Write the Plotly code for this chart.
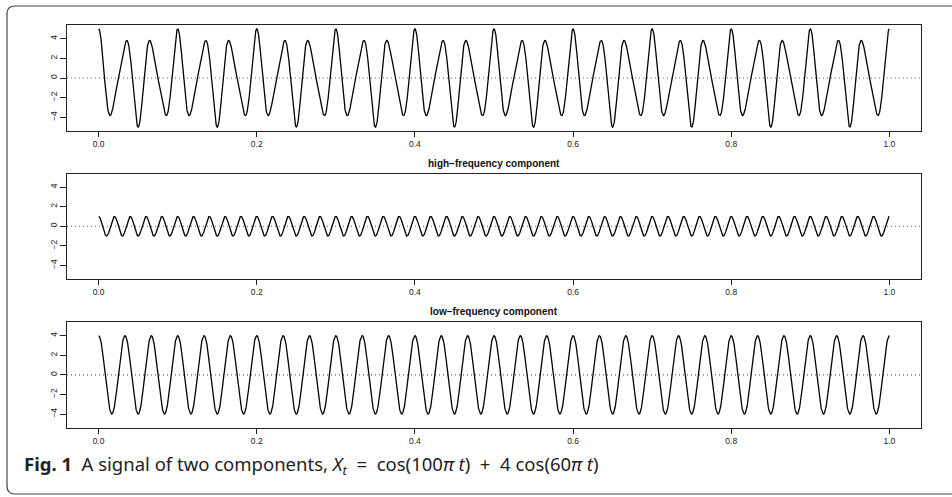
import numpy as np
import plotly.graph_objects as go

panel_titles = ["", "high−frequency component", "low−frequency component"]
component_amplitudes = [1.0, 4.0]      # cos(100πt), 4cos(60πt)
component_frequencies = [50.0, 30.0]   # cycles per unit time
t_start, t_end, n_samples = 0.0, 1.0, 3001
x_ticks = [0.0, 0.2, 0.4, 0.6, 0.8, 1.0]
y_ticks = [-4, -2, 0, 2, 4]
y_limits = [-5.4, 5.4]
x_limits = [-0.04, 1.04]
caption = ("<b>Fig. 1</b>  A signal of two components, <i>X<sub>t</sub></i>&nbsp;&nbsp;=&nbsp;&nbsp;"
           "cos(100<i>π t</i>)&nbsp;&nbsp;+&nbsp;&nbsp;4 cos(60<i>π t</i>)")

t = np.linspace(t_start, t_end, n_samples)
high = component_amplitudes[0] * np.cos(2 * np.pi * component_frequencies[0] * t)
low = component_amplitudes[1] * np.cos(2 * np.pi * component_frequencies[1] * t)
series = [high + low, high, low]

W, H = 952, 497


def px_x(p):
    return p / W


def px_y(p):
    return 1 - p / H


# panel pixel boxes (top, bottom)
panels = [(25, 131), (173.5, 279), (322, 427.7)]
xl, xr = 67, 921

fig = go.Figure()
shapes = []
annotations = []
for i, (top, bot) in enumerate(panels):
    ax = "" if i == 0 else str(i + 1)
    fig.add_trace(go.Scatter(x=t, y=series[i], mode="lines",
                             line=dict(color="black", width=1.3),
                             xaxis="x" + ax, yaxis="y" + ax,
                             showlegend=False, hoverinfo="skip"))
    common = dict(showline=True, mirror=True, linecolor="#222", linewidth=1,
                  showgrid=False, zeroline=False, ticks="outside",
                  tickcolor="#222", tickwidth=1,
                  tickfont=dict(family="Liberation Sans, Arial", size=8.5, color="#222"))
    fig.update_layout(**{
        "xaxis" + ax: dict(domain=[px_x(xl), px_x(xr)], range=x_limits,
                           tickvals=x_ticks, tickformat=".1f", ticklen=5,
                           anchor="y" + ax, **common),
        "yaxis" + ax: dict(domain=[px_y(bot), px_y(top)], range=y_limits,
                           tickvals=y_ticks, tickangle=-90, ticklen=6,
                           anchor="x" + ax, **common),
    })
    shapes.append(dict(type="line", xref="x" + ax + " domain", yref="y" + ax,
                       x0=0, x1=1, y0=0, y1=0,
                       line=dict(color="#666", width=1.2, dash="1px,3px"), layer="below"))
    if panel_titles[i]:
        annotations.append(dict(text="<b>" + panel_titles[i] + "</b>", xref="paper", yref="paper",
                                x=px_x((xl + xr) / 2), y=px_y(top - 10.5), xanchor="center",
                                yanchor="middle", showarrow=False,
                                font=dict(family="Liberation Sans, Arial", size=10, color="#111")))

# outer rounded frame
r = 8
fx0, fy0, fy1 = 7, 6, 494
path = (f"M {px_x(960)},{px_y(fy0)} L {px_x(fx0 + r)},{px_y(fy0)} "
        f"Q {px_x(fx0)},{px_y(fy0)} {px_x(fx0)},{px_y(fy0 + r)} "
        f"L {px_x(fx0)},{px_y(fy1 - r)} "
        f"Q {px_x(fx0)},{px_y(fy1)} {px_x(fx0 + r)},{px_y(fy1)} "
        f"L {px_x(960)},{px_y(fy1)}")
shapes.append(dict(type="path", xref="paper", yref="paper", path=path,
                   line=dict(color="#444", width=1.2)))

annotations.append(dict(text=caption, xref="paper", yref="paper",
                        x=px_x(22), y=px_y(465), xanchor="left", yanchor="middle",
                        showarrow=False,
                        font=dict(family="Noto Sans", size=18.5, color="#222")))

fig.update_layout(width=W, height=H, margin=dict(l=0, r=0, t=0, b=0),
                  paper_bgcolor="white", plot_bgcolor="white",
                  shapes=shapes, annotations=annotations)

fig.write_html("out.html")
